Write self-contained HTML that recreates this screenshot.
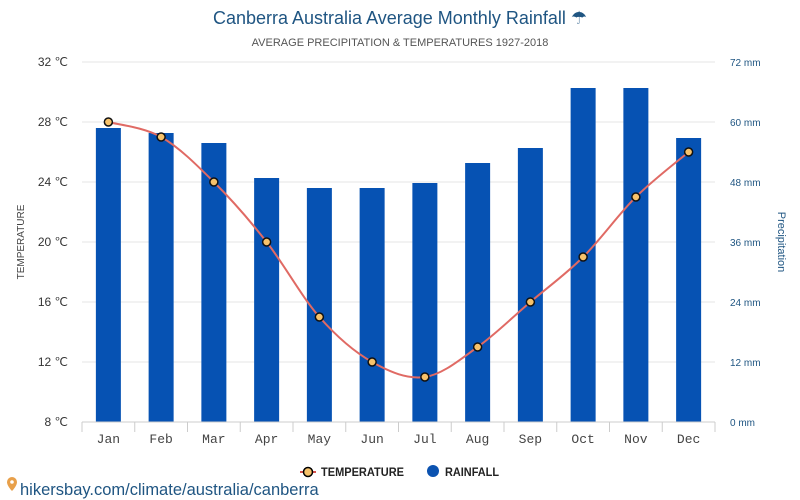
<!DOCTYPE html>
<html><head><meta charset="utf-8"><style>
body{margin:0;background:#fff;width:800px;height:500px;overflow:hidden;font-family:"Liberation Sans",sans-serif}
svg{display:block}
</style></head><body>
<svg id="chart" width="800" height="500">
<text x="400" y="24" text-anchor="middle" font-size="18" fill="#1f5582">Canberra Australia Average Monthly Rainfall ☂</text>
<text x="400" y="46" text-anchor="middle" font-size="11" fill="#555">AVERAGE PRECIPITATION &amp; TEMPERATURES 1927-2018</text>
<text transform="translate(24,242) rotate(-90)" text-anchor="middle" font-size="10" fill="#444">TEMPERATURE</text>
<text transform="translate(778,242) rotate(90)" text-anchor="middle" font-size="11" fill="#1f5582">Precipitation</text>
<g id="grid"></g><g id="bars"></g><g id="axes"></g><g id="line"></g>
<g>
<line x1="300" y1="472" x2="316" y2="472" stroke="#d9534f" stroke-width="2"/>
<circle cx="308" cy="472" r="4.5" fill="#f6c26b" stroke="#000" stroke-width="1.5"/>
<text x="321" y="476" font-size="12" font-weight="bold" fill="#222" textLength="83" lengthAdjust="spacingAndGlyphs">TEMPERATURE</text>
<circle cx="433" cy="471" r="6" fill="#0b52b0"/>
<text x="445" y="476" font-size="12" font-weight="bold" fill="#222" textLength="54" lengthAdjust="spacingAndGlyphs">RAINFALL</text>
</g>
<g>
<path d="M7 482 a5 5 0 1 1 10 0 c0 4 -5 9 -5 9 c0 0 -5 -5 -5 -9z" fill="#e8a04a"/>
<circle cx="12" cy="482" r="1.8" fill="#fff"/>
<text x="20" y="495" font-size="16.5" fill="#1f5582">hikersbay.com/climate/australia/canberra</text>
</g>
</svg>
<script>
const months=["Jan","Feb","Mar","Apr","May","Jun","Jul","Aug","Sep","Oct","Nov","Dec"];
const temps=[28,27,24,20,15,12,11,13,16,19,23,26];
const rain=[58.8,57.8,55.8,48.8,46.8,46.8,47.8,51.8,54.8,66.8,66.8,56.8];
const tempTicks=[8,12,16,20,24,28,32];
const rainTicks=[0,12,24,36,48,60,72];
const NS="http://www.w3.org/2000/svg";
const L=82,R=715,T=62,B=422,bw=(R-L)/12;
const xC=i=>L+bw*(i+0.5);
const yT=v=>B-(v-8)/24*(B-T);
const yR=v=>B-v/72*(B-T);
function mk(tag,at,parent){const e=document.createElementNS(NS,tag);for(const k in at)e.setAttribute(k,at[k]);document.getElementById(parent).appendChild(e);return e;}
tempTicks.forEach((t,i)=>{
 const y=yT(t);
 const g=mk("line",{x1:L,x2:R,y1:y,y2:y,stroke:"#e6e6e6"},"grid");
 
 
 const a=mk("text",{x:68,y:y+4,"text-anchor":"end","font-size":12,fill:"#333"},"axes");
 a.textContent=t+" ℃";
 
 
 const b=mk("text",{x:730,y:y+4,"font-size":10,fill:"#1f5582"},"axes");
 b.textContent=rainTicks[i]+" mm";
 
 
});
months.forEach((m,i)=>{
 const h=mk("rect",{x:xC(i)-12.5,y:yR(rain[i]),width:25,height:B-yR(rain[i]),fill:"#0652b3"},"bars");
 
 
 const t=mk("text",{x:xC(i),y:443,"text-anchor":"middle","font-size":13,fill:"#444","font-family":"Liberation Mono,monospace"},"axes");
 t.textContent=m;
 
 
});
for(let i=0;i<=12;i++){const x=L+bw*i;const k=mk("line",{x1:x,x2:x,y1:B,y2:B+10,stroke:"#ccc"},"axes");
 
 }
const ax=mk("line",{x1:L,x2:R,y1:B,y2:B,stroke:"#ccc"},"axes");


const P=temps.map((t,i)=>[xC(i),yT(t)]);
let d="M"+P[0][0]+","+P[0][1];
for(let i=0;i<P.length-1;i++){const p0=P[Math.max(0,i-1)],p1=P[i],p2=P[i+1],p3=P[Math.min(P.length-1,i+2)];
 d+=` C${p1[0]+(p2[0]-p0[0])/6},${p1[1]+(p2[1]-p0[1])/6} ${p2[0]-(p3[0]-p1[0])/6},${p2[1]-(p3[1]-p1[1])/6} ${p2[0]},${p2[1]}`;}
const ln=mk("path",{d:d,fill:"none",stroke:"#e06a64","stroke-width":2},"line");


P.forEach((p,i)=>{const c=mk("circle",{cx:p[0],cy:p[1],r:4,fill:"#f6c26b",stroke:"#111","stroke-width":1.5},"line");
 
 });
</script>
</body></html>
